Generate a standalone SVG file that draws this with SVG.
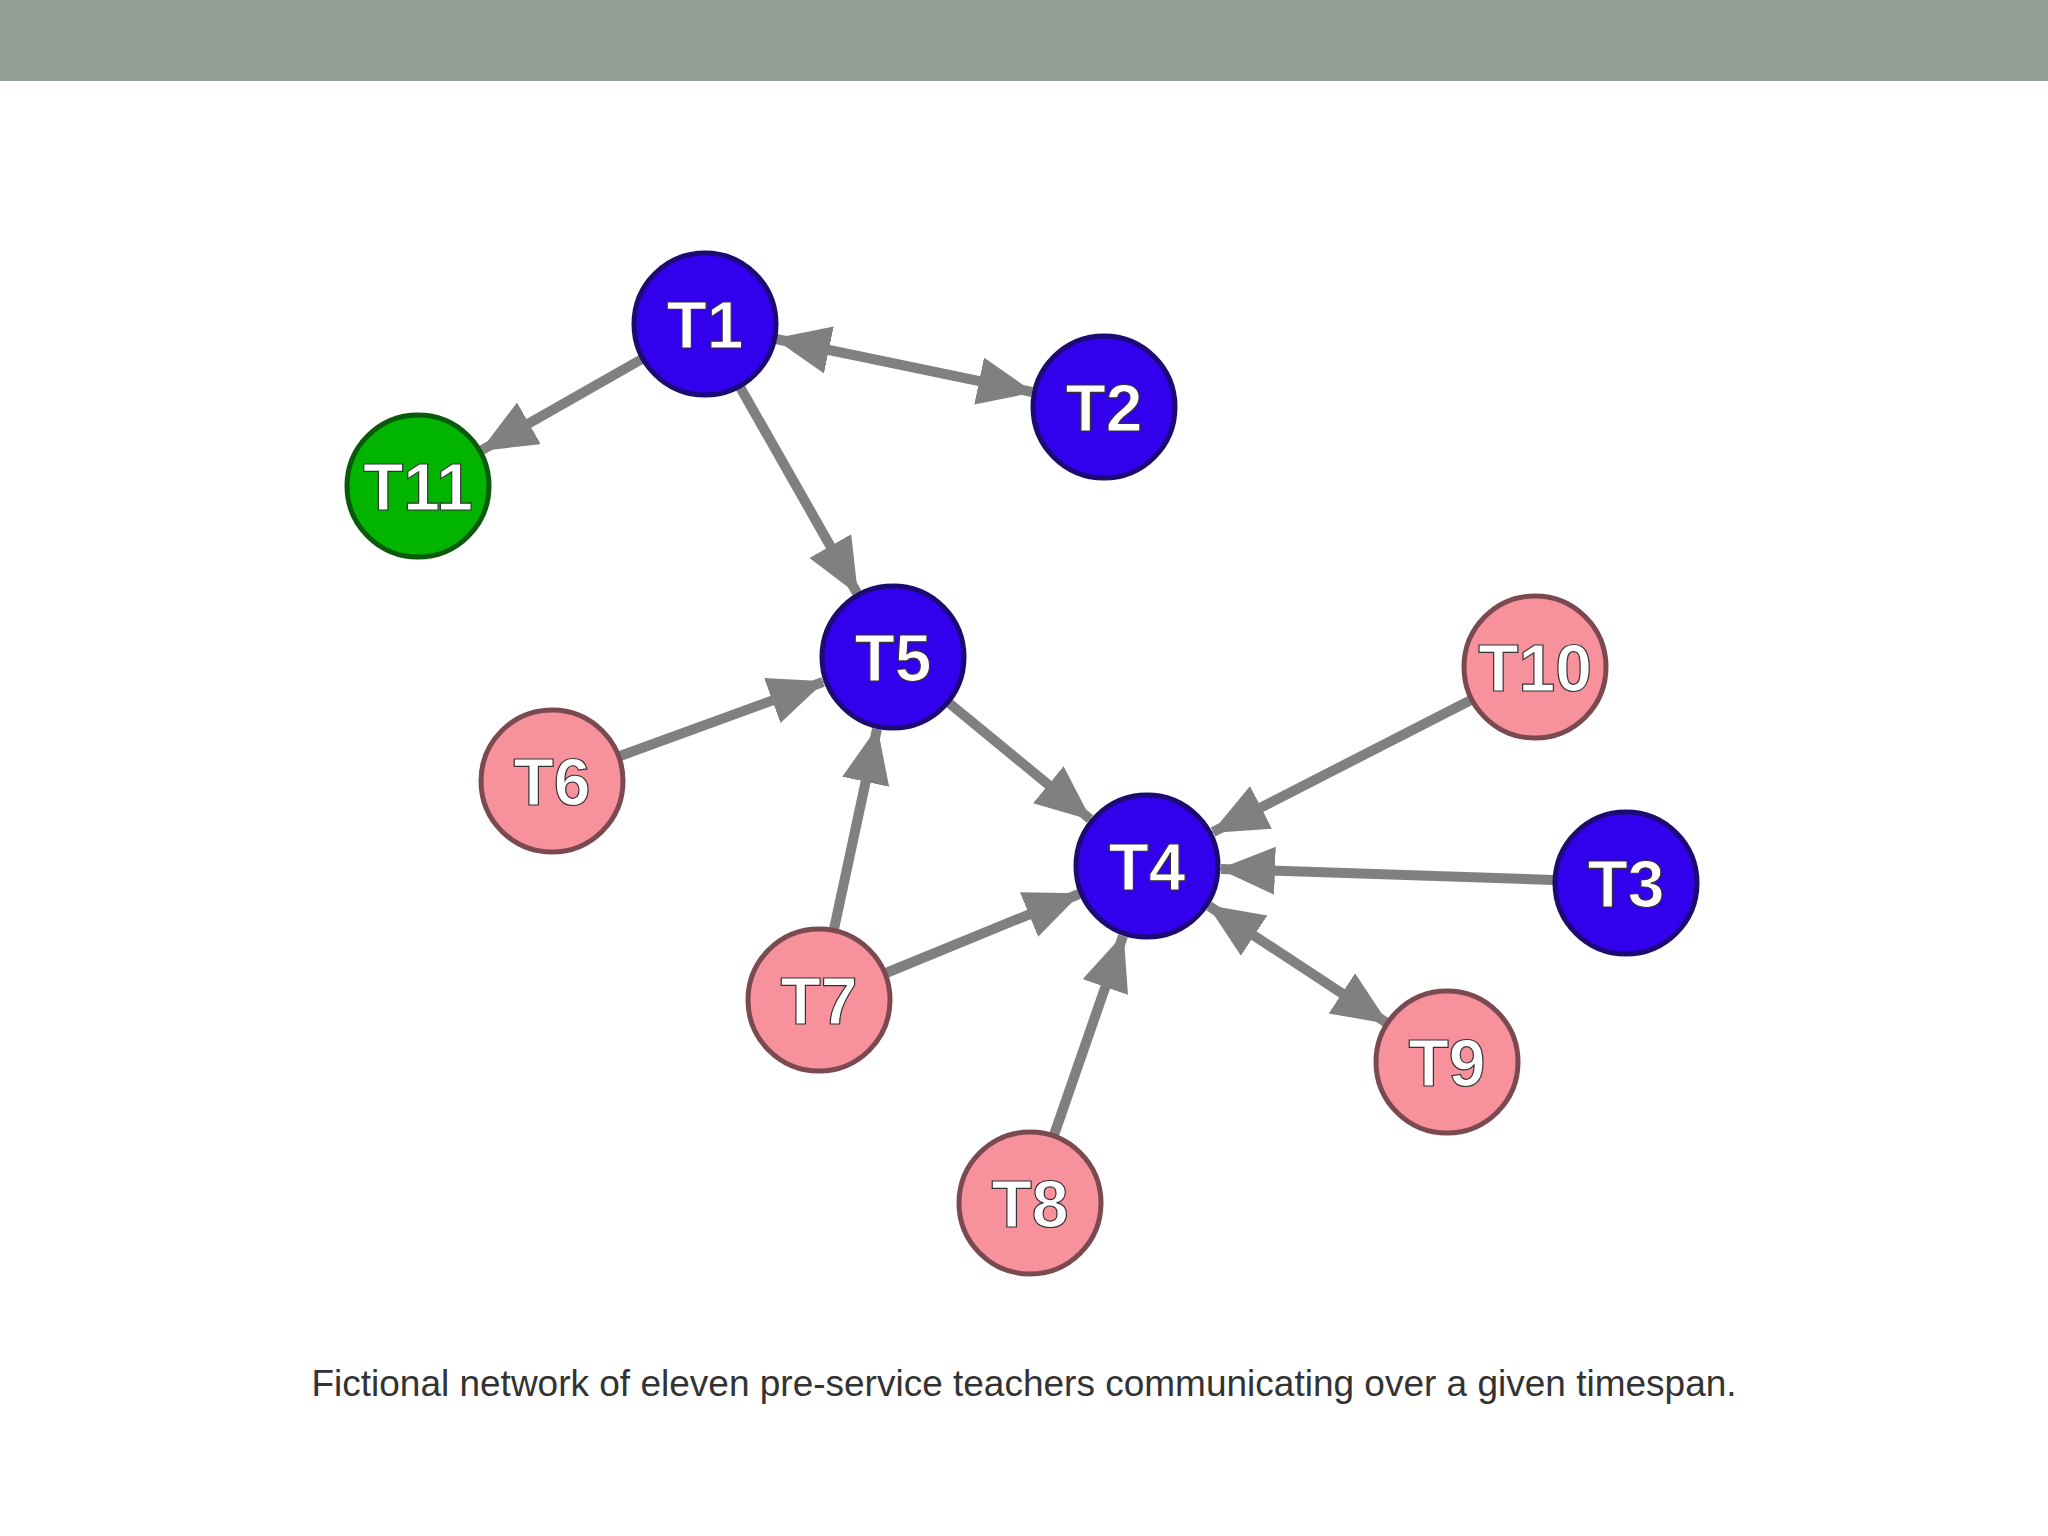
<svg xmlns="http://www.w3.org/2000/svg" width="2048" height="1536" viewBox="0 0 2048 1536">
<style>
.e{stroke:#808080;stroke-width:10;fill:none}
.b{fill:#3300ee;stroke:#1c0b72;stroke-width:5}
.p{fill:#f7929c;stroke:#7b4a50;stroke-width:5}
.g{fill:#00b400;stroke:#0b5a0b;stroke-width:5}
.t{font-family:"Liberation Sans",Arial,sans-serif;font-weight:bold;font-size:66px;fill:#fff;text-anchor:middle;stroke:#333;stroke-width:1.2}
.c{font-family:"Liberation Sans",Arial,sans-serif;font-size:37px;fill:#333;text-anchor:middle}
</style>
<defs>
<marker id="a" markerUnits="userSpaceOnUse" markerWidth="60" markerHeight="50" refX="54" refY="24" orient="auto-start-reverse">
<path d="M0,0 L56,24 L0,48 z" fill="#808080"/>
</marker>
</defs>
<rect x="0" y="0" width="2048" height="1536" fill="#fff"/>
<rect x="0" y="0" width="2048" height="81" fill="#919f97"/>
<g id="edges">
<line class="e" x1="642" y1="359" x2="482" y2="450" marker-end="url(#a)"/>
<line class="e" x1="776" y1="339" x2="1032" y2="392" marker-start="url(#a)" marker-end="url(#a)"/>
<line class="e" x1="740" y1="387" x2="857" y2="593" marker-end="url(#a)"/>
<line class="e" x1="620" y1="756" x2="823" y2="682" marker-end="url(#a)"/>
<line class="e" x1="834" y1="929" x2="877" y2="729" marker-end="url(#a)"/>
<line class="e" x1="949" y1="703" x2="1090" y2="819" marker-end="url(#a)"/>
<line class="e" x1="1471" y1="700" x2="1213" y2="832" marker-end="url(#a)"/>
<line class="e" x1="1554" y1="880" x2="1221" y2="869" marker-end="url(#a)"/>
<line class="e" x1="886" y1="973" x2="1079" y2="894" marker-end="url(#a)"/>
<line class="e" x1="1387" y1="1023" x2="1209" y2="906" marker-start="url(#a)" marker-end="url(#a)"/>
<line class="e" x1="1054" y1="1135" x2="1123" y2="936" marker-end="url(#a)"/>
</g>
<g id="T1"><circle class="b" cx="705" cy="324" r="71"/><text class="t" x="705" y="348">T1</text></g>
<g id="T2"><circle class="b" cx="1104" cy="407" r="71"/><text class="t" x="1104" y="431">T2</text></g>
<g id="T11"><circle class="g" cx="418" cy="486" r="71"/><text class="t" x="418" y="510">T11</text></g>
<g id="T5"><circle class="b" cx="893" cy="657" r="71"/><text class="t" x="893" y="681">T5</text></g>
<g id="T6"><circle class="p" cx="552" cy="781" r="71"/><text class="t" x="552" y="805">T6</text></g>
<g id="T10"><circle class="p" cx="1535" cy="667" r="71"/><text class="t" x="1535" y="691">T10</text></g>
<g id="T4"><circle class="b" cx="1147" cy="866" r="71"/><text class="t" x="1147" y="890">T4</text></g>
<g id="T3"><circle class="b" cx="1626" cy="883" r="71"/><text class="t" x="1626" y="907">T3</text></g>
<g id="T7"><circle class="p" cx="819" cy="1000" r="71"/><text class="t" x="819" y="1024">T7</text></g>
<g id="T9"><circle class="p" cx="1447" cy="1062" r="71"/><text class="t" x="1447" y="1086">T9</text></g>
<g id="T8"><circle class="p" cx="1030" cy="1203" r="71"/><text class="t" x="1030" y="1227">T8</text></g>
<text class="c" x="1024" y="1396">Fictional network of eleven pre-service teachers communicating over a given timespan.</text>
</svg>
